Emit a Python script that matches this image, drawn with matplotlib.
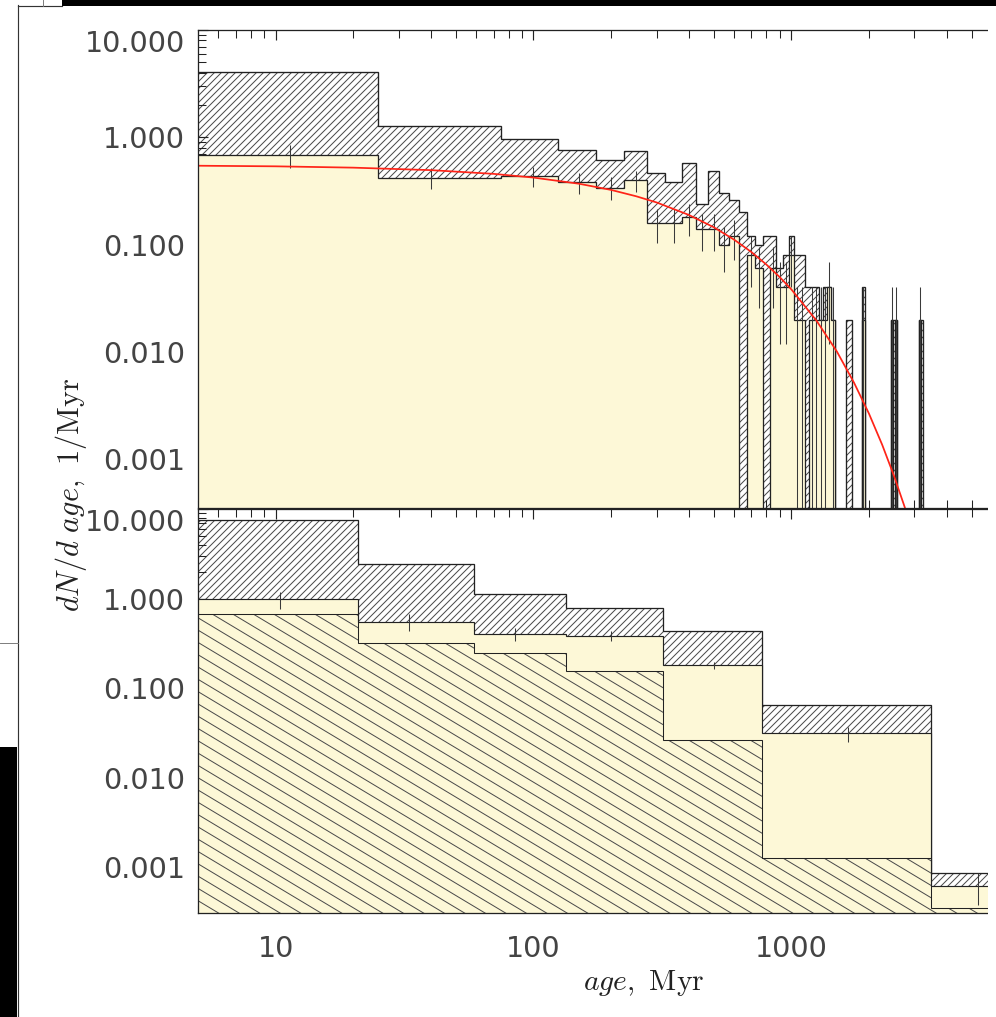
import numpy as np
import matplotlib
matplotlib.use("Agg")
import matplotlib.pyplot as plt
from matplotlib.patches import Rectangle
from matplotlib.lines import Line2D
from matplotlib.collections import LineCollection
from matplotlib.ticker import FixedLocator, NullFormatter, LogLocator

W, H, DPI = 996, 1017, 84

# ---------------- upper panel: 50 Myr bins (first bin 0-25 Myr) ----------------
top_edges = [0, 25] + list(range(75, 3376, 50))
top_total = [101, 64, 48, 38, 31, 37, 23, 19, 29, 12,
             24, 15, 13, 10, 6, 5, 6, 6, 3, 4,
             6, 4, 4, 2, 2, 2, 1, 2, 2, 1,
             0, 0, 0, 1, 1, 0, 0, 0, 2, 0,
             0, 0, 0, 0, 0, 0, 0, 0, 0, 1,
             1, 1, 0, 0, 0, 0, 0, 0, 0, 0,
             0, 0, 0, 1, 1, 0, 0, 0]
top_sub = [17, 21, 22, 19, 17, 20, 8, 8, 9, 7,
           7, 5, 6, 0, 4, 3, 0, 3, 2, 2,
           4, 1, 1, 0, 1, 1, 1, 1, 2, 1,
           0, 0, 0, 0, 0, 0, 0, 0, 1, 0,
           0, 0, 0, 0, 0, 0, 0, 0, 0, 1,
           0, 1, 0, 0, 0, 0, 0, 0, 0, 0,
           0, 0, 0, 1, 0, 0, 0, 0]
top_err_age_first = [11.4, 40.0]

# exponential-decay model curve (age, dN/dage)
curve_age = [5, 10, 20, 40, 70, 100, 150, 200, 250, 300, 400, 500, 600, 700,
             800, 900, 1000, 1250, 1500, 1750, 2000, 2250, 2500, 2750, 3000]
curve_val = [0.543, 0.536, 0.521, 0.494, 0.456, 0.421, 0.369, 0.323, 0.282,
             0.247, 0.189, 0.145, 0.111, 0.0851, 0.0651, 0.0499, 0.0382,
             0.0196, 0.0101, 0.00515, 0.00265, 0.00136, 0.000698, 0.000358,
             0.000184]

# ---------------- lower panel: wide bins ----------------
bot_edges = [0, 20.9, 58.9, 134, 318, 771, 3475, 20000]
bot_total = [7.5, 2.43, 1.14, 0.78, 0.43, 0.065, 8.6e-4]
bot_sub = [0.98, 0.55, 0.40, 0.385, 0.181, 0.0313, 6.2e-4]
bot_old = [0.67, 0.316, 0.245, 0.154, 0.0266, 0.00126, 3.5e-4]
bot_err_age = [10.4, 33, 84.6, 200, 502, 1656, 5309]
bot_err = [0.21, 0.12, 0.065, 0.045, 0.017, 0.006, 2.4e-4]

XLIM = (5, 5788)
TOP_YLIM = (3.5e-4, 10)
BOT_YLIM = (3.1e-4, 10)
FLOOR = 1e-7

YELLOW = "#fdf8d7"
HATCH_GRAY = "#4a4a4a"
EDGE = "#222222"
TXT = "#444444"

plt.rcParams["mathtext.fontset"] = "cm"
plt.rcParams["hatch.linewidth"] = 0.85
plt.rcParams["font.family"] = ["DejaVu Sans"]

fig = plt.figure(figsize=(W / DPI, H / DPI), dpi=DPI)
fig.patch.set_facecolor("white")


def px_rect(x0, y0, x1, y1):
    """Figure-fraction rectangle from pixel corners (origin top-left)."""
    return [x0 / W, 1 - y1 / H, (x1 - x0) / W, (y1 - y0) / H]


AX_W = 988 - 198
ax_top = fig.add_axes(px_rect(198, 30, 988, 508))
ax_bot = fig.add_axes(px_rect(198, 509, 988, 913))
BOT_H = 913 - 509


def clean(vals):
    v = np.asarray(vals, float)
    return np.where(v > 0, v, FLOOR)


def hatched_layer(ax, edges, vals, hatch, lw=1.0, z=1):
    v = clean(vals)
    ax.stairs(v, edges, baseline=FLOOR, fill=True, facecolor="none",
              edgecolor=HATCH_GRAY, hatch=hatch, linewidth=0, zorder=z)
    ax.stairs(v, edges, baseline=FLOOR, fill=True, facecolor="none",
              edgecolor=EDGE, linewidth=lw, zorder=z + 0.1)


def filled_layer(ax, edges, vals, face, lw=1.0, z=2):
    ax.stairs(clean(vals), edges, baseline=FLOOR, fill=True, facecolor=face,
              edgecolor=EDGE, linewidth=lw, zorder=z)


def slanted_layer(ax, edges, vals, ax_h_px, slope=0.6, step_px=12.3, lw=0.9, z=3):
    """Outline a histogram and fill it with shallow descending lines."""
    v = clean(vals)
    outline = ax.stairs(v, edges, baseline=FLOOR, fill=True, facecolor="none",
                        edgecolor=EDGE, linewidth=lw, zorder=z + 0.1)
    segs = []
    c = 0.0
    while c < ax_h_px + slope * AX_W + step_px:
        segs.append([(0.0, c / ax_h_px), (1.0, (c - slope * AX_W) / ax_h_px)])
        c += step_px
    lc = LineCollection(segs, colors=HATCH_GRAY, linewidths=0.85,
                        transform=ax.transAxes, zorder=z)
    ax.add_collection(lc, autolim=False)
    lc.set_clip_path(outline)


def errbars(ax, x, y, e, z=5):
    y = np.asarray(y, float)
    e = np.asarray(e, float)
    m = y > 0
    lo = np.where(y - e > 0, y - e, FLOOR)
    ax.vlines(np.asarray(x, float)[m], lo[m], (y + e)[m], colors="#3a3a3a",
              linewidth=0.9, zorder=z)


# ---- upper panel ----
edges = np.asarray(top_edges, float)
width = np.diff(edges)
tot = np.asarray(top_total, float) / width
sub = np.asarray(top_sub, float) / width
sub_err = np.sqrt(np.asarray(top_sub, float)) / width
err_age = 0.5 * (edges[:-1] + edges[1:])
err_age[:2] = top_err_age_first

hatched_layer(ax_top, edges, tot, "////", lw=1.15, z=1)
filled_layer(ax_top, edges, sub, YELLOW, lw=1.1, z=2)
errbars(ax_top, err_age, sub, sub_err)
ax_top.plot(curve_age, curve_val, color="#ff2418", linewidth=1.5, zorder=6)

# ---- lower panel ----
hatched_layer(ax_bot, bot_edges, bot_total, "////", lw=1.1, z=1)
filled_layer(ax_bot, bot_edges, bot_sub, YELLOW, lw=1.0, z=2)
slanted_layer(ax_bot, bot_edges, bot_old, BOT_H, z=3)
errbars(ax_bot, bot_err_age, bot_sub, bot_err)

# ---- axes styling ----
ytick_vals = [0.001, 0.01, 0.1, 1.0, 10.0]
ytick_txt = ["0.001", "0.010", "0.100", "1.000", "10.000"]
for ax, ylim in ((ax_top, TOP_YLIM), (ax_bot, BOT_YLIM)):
    ax.set_xscale("log")
    ax.set_yscale("log")
    ax.set_xlim(*XLIM)
    ax.set_ylim(*ylim)
    ax.set_facecolor("white")
    ax.spines["right"].set_visible(False)
    for s in ("left", "top", "bottom"):
        ax.spines[s].set_linewidth(1.1)
        ax.spines[s].set_color(EDGE)
        ax.spines[s].set_zorder(10)
    ax.xaxis.set_major_locator(FixedLocator([10, 100, 1000]))
    ax.xaxis.set_minor_locator(LogLocator(base=10, subs=np.arange(2, 10)))
    ax.xaxis.set_minor_formatter(NullFormatter())
    ax.set_yticks(ytick_vals, ytick_txt)
    ax.yaxis.set_minor_locator(LogLocator(base=10, subs=np.arange(2, 10)))
    ax.yaxis.set_minor_formatter(NullFormatter())
    ax.tick_params(which="both", direction="in", top=True, right=False,
                   left=True, bottom=True, colors=EDGE, labelcolor=TXT,
                   labelsize=24.5)
    ax.tick_params(which="major", length=8.5, width=1.0, pad=11)
    ax.tick_params(which="minor", length=6.5, width=0.9)
    ax.tick_params(axis="x", which="major", pad=19)
    ax.set_ylim(*ylim)
    ax.get_yticklabels()[-1].set_va("top")

ax_top.set_xticklabels([])
ax_bot.set_xticklabels(["10", "100", "1000"])

fig.text(71 / W, 1 - 495 / H, r"$dN/d\ age,\ \mathrm{1/Myr}$", rotation=90,
         ha="center", va="center", fontsize=26, color="#222222")
fig.text(644 / W, 1 - 983 / H, r"$age,\ \mathrm{Myr}$", ha="center",
         va="center", fontsize=25.5, color="#222222")

# ---- window frame around the figure ----
def fig_rect(x0, y0, x1, y1, color):
    fig.add_artist(Rectangle((x0 / W, 1 - y1 / H), (x1 - x0) / W, (y1 - y0) / H,
                             transform=fig.transFigure, facecolor=color,
                             edgecolor="none", zorder=20))


def fig_line(x0, y0, x1, y1, color, lw=1.0):
    fig.add_artist(Line2D([x0 / W, x1 / W], [1 - y0 / H, 1 - y1 / H],
                          transform=fig.transFigure, color=color, linewidth=lw,
                          zorder=21))


fig_rect(988, 0, 996, 1017, "white")
fig_rect(62, 0, 996, 5.5, "black")
fig_rect(0, 747, 17, 1017, "black")
fig_line(17.5, 5, 17.5, 1017, "#333333", 1.0)
fig_line(17.5, 5.5, 62, 5.5, "#333333", 1.0)
fig_line(42.5, 0, 42.5, 5.5, "#777777", 0.8)
fig_line(0, 643, 17.5, 643, "#777777", 0.8)

fig.savefig("out.png", dpi=DPI)
